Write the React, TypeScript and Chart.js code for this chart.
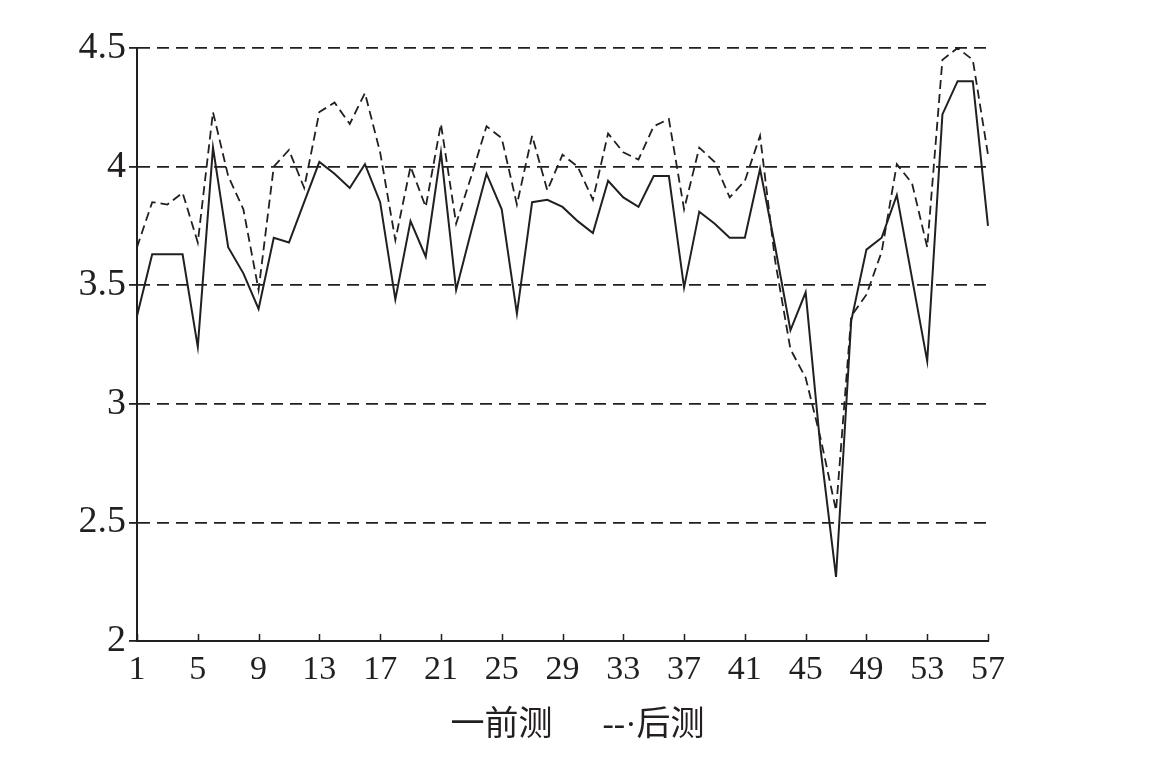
import React, { useEffect, useRef } from "react";
import { Chart, registerables } from "chart.js";

Chart.register(...registerables);

const categories: string[] = Array.from({ length: 57 }, (_, i) => String(i + 1));

const preTest: number[] = [
  3.37, 3.63, 3.63, 3.63, 3.24, 4.08, 3.66, 3.55, 3.40, 3.70,
  3.68, 3.85, 4.02, 3.97, 3.91, 4.01, 3.85, 3.44, 3.77, 3.62,
  4.06, 3.48, 3.73, 3.97, 3.82, 3.38, 3.85, 3.86, 3.83, 3.77,
  3.72, 3.94, 3.87, 3.83, 3.96, 3.96, 3.49, 3.81, 3.76, 3.70,
  3.70, 3.99, 3.66, 3.31, 3.47, 2.80, 2.27, 3.35, 3.65, 3.70,
  3.88, 3.53, 3.18, 4.22, 4.36, 4.36, 3.75,
];

const postTest: number[] = [
  3.66, 3.85, 3.84, 3.89, 3.68, 4.23, 3.96, 3.82, 3.48, 4.00,
  4.07, 3.91, 4.23, 4.27, 4.18, 4.31, 4.06, 3.69, 4.00, 3.83,
  4.18, 3.76, 3.96, 4.17, 4.12, 3.84, 4.13, 3.90, 4.05, 4.00,
  3.86, 4.14, 4.06, 4.03, 4.17, 4.20, 3.82, 4.08, 4.02, 3.87,
  3.94, 4.13, 3.60, 3.23, 3.11, 2.85, 2.55, 3.37, 3.46, 3.64,
  4.01, 3.93, 3.66, 4.45, 4.50, 4.45, 4.05,
];

const seriesNames: string[] = ["前测", "后测"];
const legendTexts: string[] = ["一前测", "--·后测"];

const yMin = 2;
const yMax = 4.5;
const yStep = 0.5;
const xTickEvery = 4;

const INK = "#231f20";
const SERIF = "'Liberation Serif', 'Times New Roman', serif";

const innerTicks = {
  id: "innerTicks",
  afterDraw(chart: any) {
    const xs = chart.scales.x;
    const ctx = chart.ctx;
    const bottom = chart.chartArea.bottom;
    ctx.save();
    ctx.strokeStyle = INK;
    ctx.lineWidth = 1.5;
    ctx.beginPath();
    xs.ticks.forEach((_t: any, i: number) => {
      const px = Math.round(xs.getPixelForTick(i)) + 0.5;
      ctx.moveTo(px, bottom);
      ctx.lineTo(px, bottom - 7);
    });
    ctx.stroke();
    ctx.restore();
  },
};

export default function App() {
  const ref = useRef<HTMLCanvasElement | null>(null);

  useEffect(() => {
    if (!ref.current) return;
    const chart = new Chart(ref.current, {
      type: "line",
      data: {
        labels: categories,
        datasets: [
          {
            label: seriesNames[0],
            data: preTest,
            borderColor: INK,
            borderWidth: 2,
            pointRadius: 0,
            tension: 0,
            fill: false,
          },
          {
            label: seriesNames[1],
            data: postTest,
            borderColor: INK,
            borderWidth: 1.8,
            borderDash: [9, 5],
            pointRadius: 0,
            tension: 0,
            fill: false,
          },
        ],
      },
      options: {
        animation: false,
        responsive: true,
        maintainAspectRatio: false,
        layout: { padding: { left: 0, right: 0, top: 40, bottom: 0 } },
        plugins: {
          tooltip: { enabled: false },
          legend: {
            position: "bottom",
            labels: {
              boxWidth: 15,
              padding: 18,
              color: INK,
              font: { family: "'Liberation Serif', 'Noto Sans CJK SC', serif", size: 34 },
              generateLabels: () =>
                legendTexts.map((t, i) => ({
                  text: t,
                  fillStyle: "rgba(0,0,0,0)",
                  strokeStyle: "rgba(0,0,0,0)",
                  lineWidth: 0,
                  hidden: false,
                  datasetIndex: i,
                  fontColor: INK,
                })),
            },
          },
        },
        scales: {
          x: {
            type: "category",
            offset: false,
            afterBuildTicks: (scale: any) => {
              scale.ticks = scale.ticks.filter((t: any) => t.value % xTickEvery === 0);
            },
            afterFit: (scale: any) => {
              scale.height = 50;
            },
            grid: { display: false, drawTicks: false },
            border: { display: true, color: INK, width: 2 },
            ticks: {
              autoSkip: false,
              maxRotation: 0,
              padding: 9,
              color: INK,
              font: { family: SERIF, size: 34 },
            },
          },
          y: {
            min: yMin,
            max: yMax,
            afterFit: (scale: any) => {
              scale.width = 129;
            },
            border: { display: true, color: INK, width: 2, dash: [12, 7] },
            grid: {
              color: (c: any) => (c.tick && c.tick.value === yMin ? "rgba(0,0,0,0)" : INK),
              lineWidth: 1.8,
              tickLength: 8,
              tickColor: INK,
              tickWidth: 1.8,
            },
            ticks: {
              stepSize: yStep,
              padding: 3,
              color: INK,
              font: { family: SERIF, size: 38 },
              callback: (v: any) => String(Number(v)),
            },
          },
          yRight: {
            position: "right",
            display: true,
            afterFit: (scale: any) => {
              scale.width = 127;
            },
            grid: { display: false, drawTicks: false },
            border: { display: false },
            ticks: { display: false },
          },
        },
      },
      plugins: [innerTicks],
    });
    return () => chart.destroy();
  }, []);

  return (
    <div style={{ width: 1107, height: 745, position: "relative" }}>
      <canvas ref={ref} />
    </div>
  );
}
